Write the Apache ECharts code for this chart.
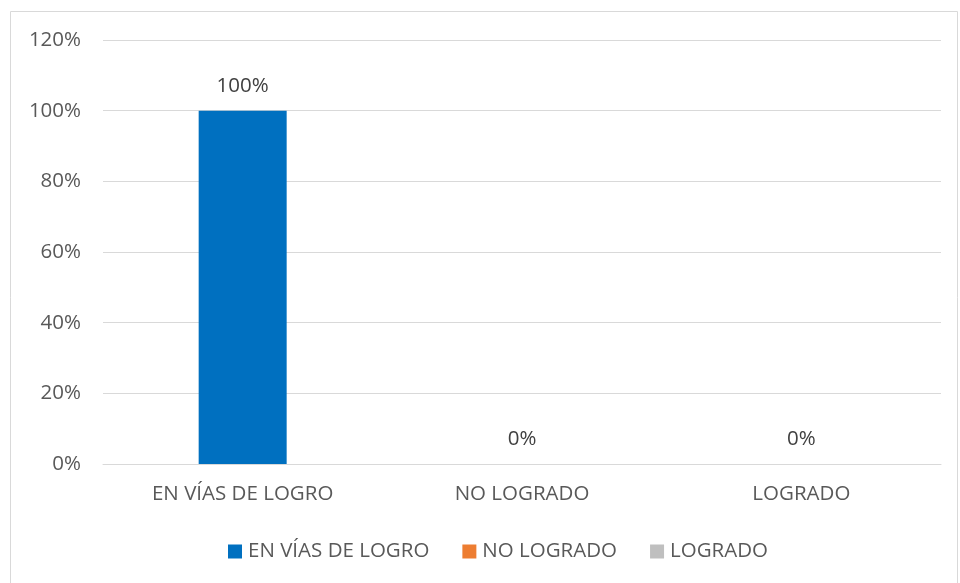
<!DOCTYPE html>
<html>
<head>
<meta charset="utf-8">
<script src="https://cdn.jsdelivr.net/npm/echarts@6/dist/echarts.min.js"></script>
<style>
html,body{margin:0;padding:0;background:#fff;}
#c{width:960px;height:583px;}
</style>
</head>
<body>
<div id="c"></div>
<script>
const categories = ['EN VÍAS DE LOGRO', 'NO LOGRADO', 'LOGRADO'];
const seriesNames = ['EN VÍAS DE LOGRO', 'NO LOGRADO', 'LOGRADO'];
const seriesValues = [
  [100, null, null],
  [null, 0, null],
  [null, null, 0]
];
const colors = ['#0070C0', '#ED7D31', '#BFBFBF'];
const yTicks = [0, 20, 40, 60, 80, 100, 120];

const font = 'Open Sans, Liberation Sans, sans-serif';
const fs = 20.5;
const chart = echarts.init(document.getElementById('c'));
chart.setOption({
  animation: false,
  textStyle: {fontFamily: font},
  graphic: [{
    type: 'rect',
    shape: {x: 10.5, y: 11.5, width: 947, height: 580},
    style: {fill: 'none', stroke: '#d9d9d9', lineWidth: 1},
    silent: true
  }],
  grid: {left: 103, right: 19, top: 40, bottom: 119, containLabel: false},
  legend: {
    top: 536,
    left: 223,
    itemWidth: 14,
    itemHeight: 14,
    itemGap: 33,
    icon: 'rect',
    textStyle: {color: '#595959', fontSize: fs, fontFamily: font, padding: [0, 0, 0, 1]},
    data: seriesNames
  },
  xAxis: {
    type: 'category',
    data: categories,
    axisLine: {lineStyle: {color: '#d9d9d9'}},
    axisTick: {show: false},
    axisLabel: {color: '#595959', fontSize: fs, margin: 20, fontFamily: font}
  },
  yAxis: {
    type: 'value',
    min: yTicks[0],
    max: yTicks[yTicks.length - 1],
    interval: 20,
    axisLine: {show: false},
    axisTick: {show: false},
    splitLine: {lineStyle: {color: '#d9d9d9', width: 1}},
    axisLabel: {color: '#595959', fontSize: fs, margin: 22, formatter: v => v + '%', fontFamily: font}
  },
  series: seriesNames.map((n, i) => ({
    name: n,
    type: 'bar',
    data: seriesValues[i],
    barWidth: 88,
    barGap: '-100%',
    itemStyle: {color: colors[i]},
    label: {
      show: true,
      position: 'top',
      distance: 14,
      color: '#404040',
      fontSize: fs,
      fontFamily: font,
      formatter: p => p.value + '%'
    }
  }))
});
</script>
</body>
</html>
